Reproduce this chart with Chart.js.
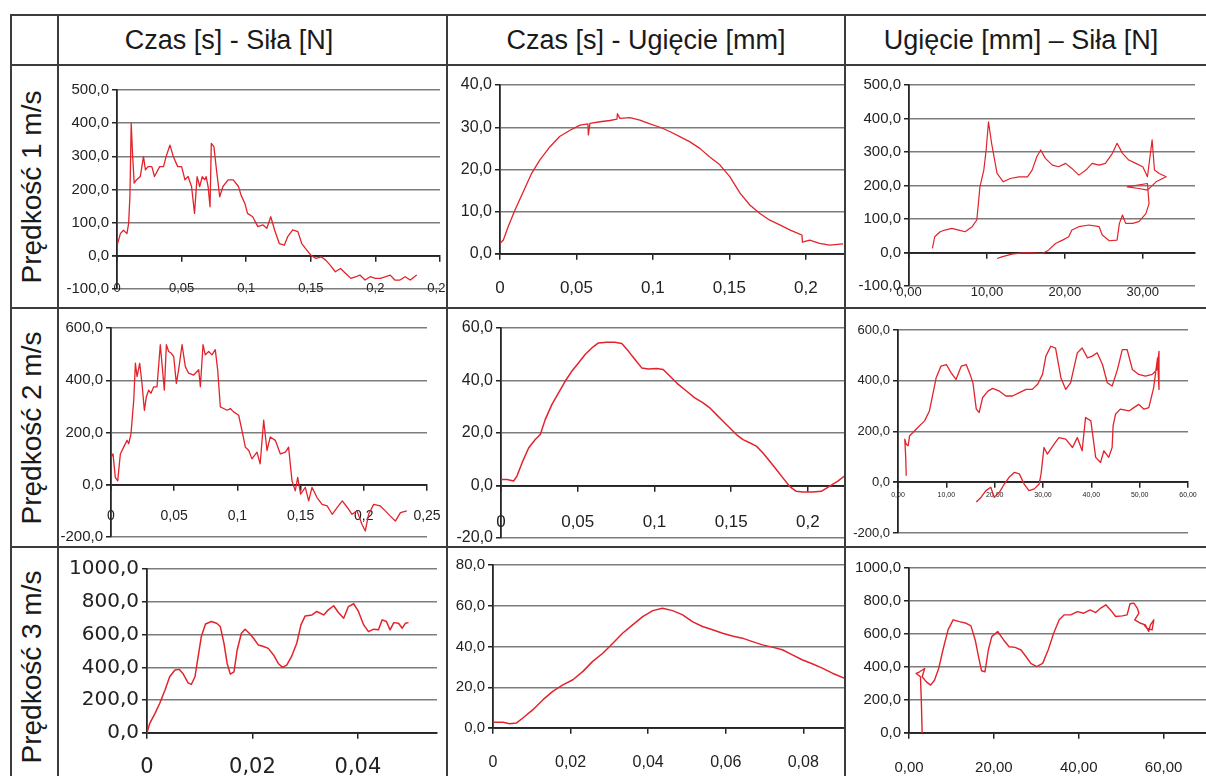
<!DOCTYPE html>
<html>
<head>
<meta charset="utf-8">
<script src="https://cdn.jsdelivr.net/npm/chart.js@4.4.1/dist/chart.umd.min.js"></script>
<style>
  body { margin: 0; background: #fff; width: 1206px; height: 776px; overflow: hidden; position: relative; font-family: "Liberation Sans", Arial, sans-serif; }
  .rule { position: absolute; background: #3c3c3c; z-index: 2; }
  .head { position: absolute; top: 20px; height: 40px; line-height: 40px; width: 420px; text-align: center; font-size: 27px; color: #1a1a1a; white-space: nowrap; }
  .rowlab { position: absolute; width: 240px; height: 36px; line-height: 36px; text-align: center; font-size: 28px; color: #1a1a1a; white-space: nowrap; transform: rotate(-90deg); }
  canvas { position: absolute; }
</style>
</head>
<body>

<div class="head" style="left:19px">Czas [s] - Siła [N]</div>
<div class="head" style="left:436px">Czas [s] - Ugięcie [mm]</div>
<div class="head" style="left:811px">Ugięcie [mm] – Siła [N]</div>

<div class="rowlab" style="left:-88px; top:169px">Prędkość 1 m/s</div>
<div class="rowlab" style="left:-88px; top:410px">Prędkość 2 m/s</div>
<div class="rowlab" style="left:-88px; top:649px">Prędkość 3 m/s</div>

<canvas id="c11"></canvas><canvas id="c12"></canvas><canvas id="c13"></canvas>
<canvas id="c21"></canvas><canvas id="c22"></canvas><canvas id="c23"></canvas>
<canvas id="c31"></canvas><canvas id="c32"></canvas><canvas id="c33"></canvas>

<div class="rule" style="left:11px; top:14px; width:1195px; height:2px"></div>
<div class="rule" style="left:11px; top:64px; width:1195px; height:2px"></div>
<div class="rule" style="left:11px; top:307px; width:1195px; height:2px"></div>
<div class="rule" style="left:11px; top:546px; width:1195px; height:2px"></div>
<div class="rule" style="left:10px; top:14px; width:2px; height:762px"></div>
<div class="rule" style="left:57px; top:14px; width:2px; height:762px"></div>
<div class="rule" style="left:446px; top:14px; width:2px; height:762px"></div>
<div class="rule" style="left:844px; top:14px; width:2px; height:762px"></div>

<script>
// Prędkość 1 m/s
const v1TimeF = [0.0005,0.0026,0.005,0.0077,0.009,0.010,0.011,0.012,0.0133,0.015,0.018,0.0205,0.022,0.024,0.027,0.029,0.033,0.036,0.038,0.041,0.0436,0.047,0.05,0.0526,0.055,0.0577,0.060,0.062,0.064,0.066,0.068,0.069,0.0705,0.072,0.073,0.075,0.077,0.0795,0.082,0.086,0.090,0.094,0.096,0.099,0.101,0.105,0.109,0.113,0.116,0.119,0.122,0.1256,0.1295,0.132,0.136,0.140,0.143,0.146,0.150,0.154,0.158,0.1615,0.165,0.169,0.173,0.177,0.181,0.185,0.188,0.192,0.196,0.200,0.204,0.208,0.2115,0.215,0.219,0.223,0.227,0.232];
const v1Force = [37,67,77,67,98,178,400,309,219,229,239,299,259,269,269,239,269,269,299,334,299,269,269,229,239,209,128,239,209,239,229,239,209,148,339,329,259,178,209,229,229,209,183,158,128,118,88,93,83,118,78,37,32,57,78,73,37,22,2,-8,-3,-13,-28,-48,-38,-53,-68,-63,-58,-73,-63,-68,-68,-63,-58,-73,-73,-63,-73,-58];
const v1TimeD = [0,0.0022,0.0054,0.0098,0.0153,0.0207,0.026,0.0327,0.039,0.0458,0.0523,0.0575,0.0578,0.0588,0.0654,0.0719,0.0765,0.0768,0.0784,0.085,0.0915,0.098,0.1046,0.111,0.1176,0.124,0.1307,0.137,0.1438,0.1503,0.157,0.1634,0.17,0.1765,0.183,0.1895,0.196,0.1975,0.1978,0.2026,0.209,0.2157,0.2244];
const v1Defl = [2.5,3.3,6.5,10.4,14.8,19.1,22.2,25.4,27.8,29.3,30.5,30.8,28.2,30.9,31.3,31.6,31.9,33.2,32.1,32.3,31.7,30.8,30,29,27.8,26.6,25,23,21.1,18.3,14.4,11.6,9.6,8.0,6.9,5.7,4.7,4.5,2.8,3.3,2.5,2.1,2.4];
const v1DeflX = [3.0,3.3,4.0,4.6,5.5,6.4,7.2,8.1,8.7,8.9,9.1,9.6,9.9,10.2,10.6,11.3,12.1,13.0,14.1,15.2,15.8,16.4,16.9,17.5,18.4,19.2,20.1,20.9,21.8,22.7,23.5,24.4,25.2,26.1,26.7,27.4,28.2,29.1,30.0,30.6,31.2,31.5,32.1,33.0,31.7,30.6,29.5,28.0,30.6,30.8,30.4,29.5,28.7,27.8,27.4,27.0,26.7,25.7,24.8,24.4,23.1,21.8,20.9,20.5,19.7,18.8,17.9,17.1,15.8,14.5,13.2,11.9,11.3];
const v1ForceY = [12,47,62,67,72,67,62,77,97,146,196,246,306,390,326,236,211,221,226,226,246,286,306,281,261,256,266,251,231,246,266,261,266,296,326,296,276,266,256,226,336,246,236,226,211,186,191,196,206,146,116,92,87,87,112,87,37,35,52,77,82,77,67,47,37,27,7,-3,-1,-1,-5,-13,-18];

// Prędkość 2 m/s
const v2TimeF = [0,0.0016,0.0034,0.0053,0.0074,0.01,0.0127,0.014,0.0158,0.018,0.0193,0.0206,0.0227,0.0245,0.0264,0.028,0.0298,0.0316,0.0338,0.0364,0.039,0.0403,0.0422,0.0438,0.0456,0.0475,0.0496,0.0517,0.0535,0.0562,0.0588,0.0614,0.0654,0.0694,0.0707,0.0728,0.0746,0.0773,0.0799,0.0825,0.0844,0.0865,0.0891,0.0918,0.0944,0.097,0.101,0.1036,0.1063,0.109,0.1115,0.1155,0.118,0.1208,0.1234,0.126,0.13,0.134,0.138,0.1405,0.1432,0.1458,0.1477,0.15,0.1537,0.1564,0.159,0.163,0.167,0.171,0.175,0.179,0.183,0.187,0.1907,0.1946,0.1986,0.2012,0.2038,0.2078,0.213,0.217,0.221,0.225,0.229,0.234];
const v2Force = [105,118,28,15,118,144,170,157,195,324,465,414,465,388,285,337,362,350,375,375,536,465,362,536,510,504,491,388,440,536,452,427,420,440,375,536,497,510,497,517,440,298,292,285,292,279,266,208,144,131,99,125,80,247,131,183,170,118,125,144,15,-23,28,-36,-10,-62,-10,-49,-75,-81,-113,-87,-62,-87,-113,-100,-152,-177,-113,-75,-81,-100,-120,-139,-107,-100];
const v2TimeD = [0,0.0039,0.0082,0.0104,0.0137,0.018,0.0223,0.0256,0.0288,0.0332,0.0375,0.0418,0.0462,0.0505,0.0548,0.0592,0.0635,0.0689,0.0743,0.0787,0.083,0.0873,0.0917,0.096,0.1014,0.1057,0.11,0.1155,0.121,0.1263,0.1317,0.136,0.1404,0.1447,0.149,0.1534,0.1577,0.162,0.1664,0.1707,0.175,0.1794,0.1837,0.188,0.1924,0.1967,0.2032,0.2087,0.214,0.2195,0.2238];
const v2Defl = [2.3,2.3,1.7,3.6,8.6,14.3,17.5,19.4,25.1,30.9,35.3,39.7,43.6,46.7,49.9,52.4,54.3,54.6,54.6,54.1,51.2,48,44.8,44.4,44.6,44.2,41.7,38.5,35.9,33.4,31.5,29.6,27,24.5,22,19.4,17.5,16.3,15,12.4,9.3,6.1,2.9,-0.3,-2.2,-2.5,-2.5,-2.2,-0.3,1.7,3.6];
const v2DeflX = [1.7,1.6,1.4,1.7,2.1,2.4,3.1,4.1,5.5,6.5,7.2,7.9,8.9,10,11,12,13.1,14.1,14.8,15.5,16.2,16.8,17.5,18.6,19.6,21,22.3,23.7,25.1,26.5,27.8,28.9,29.9,30.6,31.6,32.6,33.7,34.7,35.7,37.1,38.1,39.2,40.2,41.2,42.3,43.3,44.3,45.4,46.4,47.4,48.5,49.8,51.2,52.6,53.6,54,54,53.7,52.9,51.9,50.9,49.8,48.8,47.8,46,45,44.5,44.3,43.6,42.6,41.9,40.9,39.9,38.8,38.1,37.1,36.1,34.7,33.3,32.3,30.9,30.2,29.6,29.2,28.2,27.1,26.1,25.1,24.1,23,22,21,19.9,19.2,18.2,17.2,16.2];
const v2ForceY = [26,98,170,150,144,183,196,216,242,281,346,412,458,464,431,405,458,464,431,392,288,275,333,359,370,359,340,340,353,366,366,386,425,497,536,529,412,366,392,510,529,490,497,510,464,392,379,444,523,523,444,425,418,425,444,516,366,490,373,294,288,307,294,281,288,268,222,137,98,124,78,98,242,255,124,176,137,170,176,150,111,137,33,-7,-26,-33,-7,33,39,20,-7,-39,-59,-20,-33,-59,-78];

// Prędkość 3 m/s
const v3TimeF = [0,0.0005,0.0015,0.0024,0.0034,0.0043,0.0053,0.0061,0.0068,0.0078,0.0084,0.0091,0.0097,0.0103,0.0111,0.0122,0.0132,0.0139,0.0146,0.0152,0.0158,0.0165,0.0171,0.0179,0.0186,0.0194,0.0202,0.0211,0.0221,0.023,0.024,0.0249,0.0257,0.0265,0.0274,0.0284,0.0292,0.03,0.0313,0.0322,0.0335,0.0344,0.0354,0.0363,0.0373,0.0382,0.0392,0.0401,0.0411,0.042,0.043,0.0439,0.0446,0.0454,0.0461,0.0468,0.0477,0.0484,0.049,0.0496];
const v3Force = [0,57,118,180,261,343,384,388,363,306,296,343,465,588,665,680,669,649,547,424,359,373,506,608,633,608,578,537,527,516,476,424,400,414,465,547,659,714,720,741,720,751,776,735,700,771,788,741,659,618,633,629,690,680,629,673,669,639,669,673];
const v3TimeD = [0,0.0026,0.0043,0.006,0.0077,0.0103,0.0129,0.0154,0.018,0.0206,0.0232,0.0257,0.0283,0.0309,0.0334,0.036,0.0386,0.0412,0.0437,0.0463,0.0489,0.0514,0.054,0.0566,0.0592,0.0617,0.0643,0.0669,0.0695,0.072,0.0746,0.0772,0.0797,0.0823,0.0849,0.0875,0.0905];
const v3Defl = [2.8,2.8,2.1,2.4,4.9,9,13.9,18,21.2,23.7,27.8,32.7,36.7,41.6,46.5,50.6,54.7,57.6,58.8,57.6,55.5,52.2,49.8,48.2,46.5,45.2,44.1,42.4,40.8,39.7,38.4,35.9,33.5,31.5,29.4,26.9,24.5];
const v3DeflX = [3.1,2.9,2.7,1.7,2.5,3.7,3.1,4.1,5.1,6,7,8,9.2,10.4,11.9,13.5,14.6,15.6,16.4,17.1,17.9,18.7,19.5,20.9,22.3,23.6,25,26.4,27.6,28.7,30.1,31.5,32.8,34.1,35.4,36.6,38.1,39.7,41.2,42.7,44,45.2,46.4,47.5,48.7,50.3,51.4,52.1,53,53.8,54.2,53.2,54.6,55.7,56.5,56.9,57.7,57.3,56.1,55.4];
const v3ForceY = [0,199,341,361,371,391,341,310,290,320,391,503,625,686,675,665,649,564,462,377,371,503,584,615,564,523,519,503,462,422,402,422,503,604,686,716,716,736,726,746,730,757,777,746,706,710,716,783,787,757,726,686,665,655,615,655,686,625,635,655];

const RED = '#e3232b';
const DARK = '#242424';
const GRID = '#7c7c7c';
const TXT = '#222';

const cols = [[59, 387], [448, 396], [846, 360]];
const rows = [[66, 241], [309, 237], [548, 228]];

// number formats with decimal comma
const general = v => String(Math.round(v * 10000) / 10000).replace('.', ',');
const oneDec = v => v.toFixed(1).replace('.', ',');
const twoDec = v => v.toFixed(2).replace('.', ',');

function panel(id, r, c, xs, ys, o) {
  const cv = document.getElementById(id);
  cv.width = cols[c][1];
  cv.height = rows[r][1];
  cv.style.left = cols[c][0] + 'px';
  cv.style.top = rows[r][0] + 'px';
  const n = Math.min(xs.length, ys.length);
  const pts = [];
  for (let i = 0; i < n; i++) pts.push({x: xs[i], y: ys[i]});
  const fam = o.family || 'Liberation Sans';

  new Chart(cv, {
    type: 'scatter',
    data: {
      datasets: [{
        data: pts,
        showLine: true,
        borderColor: RED,
        borderWidth: o.lw || 1.4,
        pointRadius: 0,
        tension: 0,
        borderJoinStyle: 'round'
      }]
    },
    options: {
      responsive: false,
      animation: false,
      devicePixelRatio: 1,
      events: [],
      layout: { padding: { left: 0, top: o.pad[0], right: o.pad[1], bottom: o.pad[2] } },
      plugins: { legend: { display: false }, tooltip: { enabled: false } },
      scales: {
        x: {
          type: 'linear',
          position: { y: 0 },
          min: o.x[0], max: o.x[1],
          ticks: {
            stepSize: o.x[2], includeBounds: false, autoSkip: false,
            maxRotation: 0, minRotation: 0,
            padding: o.xpad, color: TXT,
            font: { family: fam, size: o.xf },
            callback: v => o.xfmt(v)
          },
          grid: { drawOnChartArea: false, tickLength: 5, tickColor: DARK, lineWidth: 1.5 },
          border: { color: DARK, width: 1.8 },
          afterFit: s => { s.height = 0; s.paddingLeft = 0; s.paddingRight = 0; }
        },
        y: {
          min: o.y[0], max: o.y[1],
          ticks: {
            stepSize: o.y[2], padding: 3, color: TXT,
            font: { family: fam, size: o.yf },
            callback: v => oneDec(v)
          },
          grid: {
            color: ctx => (ctx.tick && ctx.tick.value === 0) ? DARK : GRID,
            lineWidth: ctx => (ctx.tick && ctx.tick.value === 0) ? 1.8 : 1.5,
            tickLength: 5, tickColor: DARK
          },
          border: { color: DARK, width: 1.8 },
          afterFit: s => { s.width = o.left; s.paddingTop = 0; s.paddingBottom = 0; }
        }
      }
    }
  });
}

panel('c11', 0, 0, v1TimeF, v1Force,  { left: 58, pad: [24, 6, 18], x: [0, 0.25, 0.05], y: [-100, 500, 100], xf: 13, yf: 15, xpad: 20, xfmt: general, lw: 1.3 });
panel('c12', 0, 1, v1TimeD, v1Defl,   { left: 52, pad: [19, 0, 53], x: [0, 0.225, 0.05], y: [0, 40, 10], xf: 17, yf: 16, xpad: 19, xfmt: general, lw: 1.3 });
panel('c13', 0, 2, v1DeflX, v1ForceY, { left: 63, pad: [19, 11, 21], x: [0, 36.7, 10], y: [-100, 500, 100], xf: 13, yf: 15, xpad: 27, xfmt: twoDec, lw: 1.2 });
panel('c21', 1, 0, v2TimeF, v2Force,  { left: 52, pad: [19, 19, 9], x: [0, 0.25, 0.05], y: [-200, 600, 200], xf: 14, yf: 15, xpad: 18, xfmt: general, lw: 1.3 });
panel('c22', 1, 1, v2TimeD, v2Defl,   { left: 53, pad: [19, 0, 8], x: [0, 0.2235, 0.05], y: [-20, 60, 20], xf: 17, yf: 16, xpad: 22, xfmt: general, lw: 1.5 });
panel('c23', 1, 2, v2DeflX, v2ForceY, { left: 52, pad: [21, 18, 13], x: [0, 60, 10], y: [-200, 600, 200], xf: 7, yf: 13, xpad: 4, xfmt: twoDec, lw: 1.3 });
panel('c31', 2, 0, v3TimeF, v3Force,  { left: 88, pad: [21, 9, 43], x: [0, 0.055, 0.02], y: [0, 1000, 200], xf: 21, yf: 20, xpad: 17, xfmt: general, family: 'DejaVu Sans', lw: 1.5 });
panel('c32', 2, 1, v3TimeD, v3Defl,   { left: 45, pad: [17, 0, 48], x: [0, 0.0905, 0.02], y: [0, 80, 20], xf: 16, yf: 15, xpad: 20, xfmt: general, lw: 1.5 });
panel('c33', 2, 2, v3DeflX, v3ForceY, { left: 63, pad: [20, 0, 43], x: [0, 70, 20], y: [0, 1000, 200], xf: 15, yf: 15, xpad: 21, xfmt: twoDec, lw: 1.4 });
</script>
</body>
</html>
